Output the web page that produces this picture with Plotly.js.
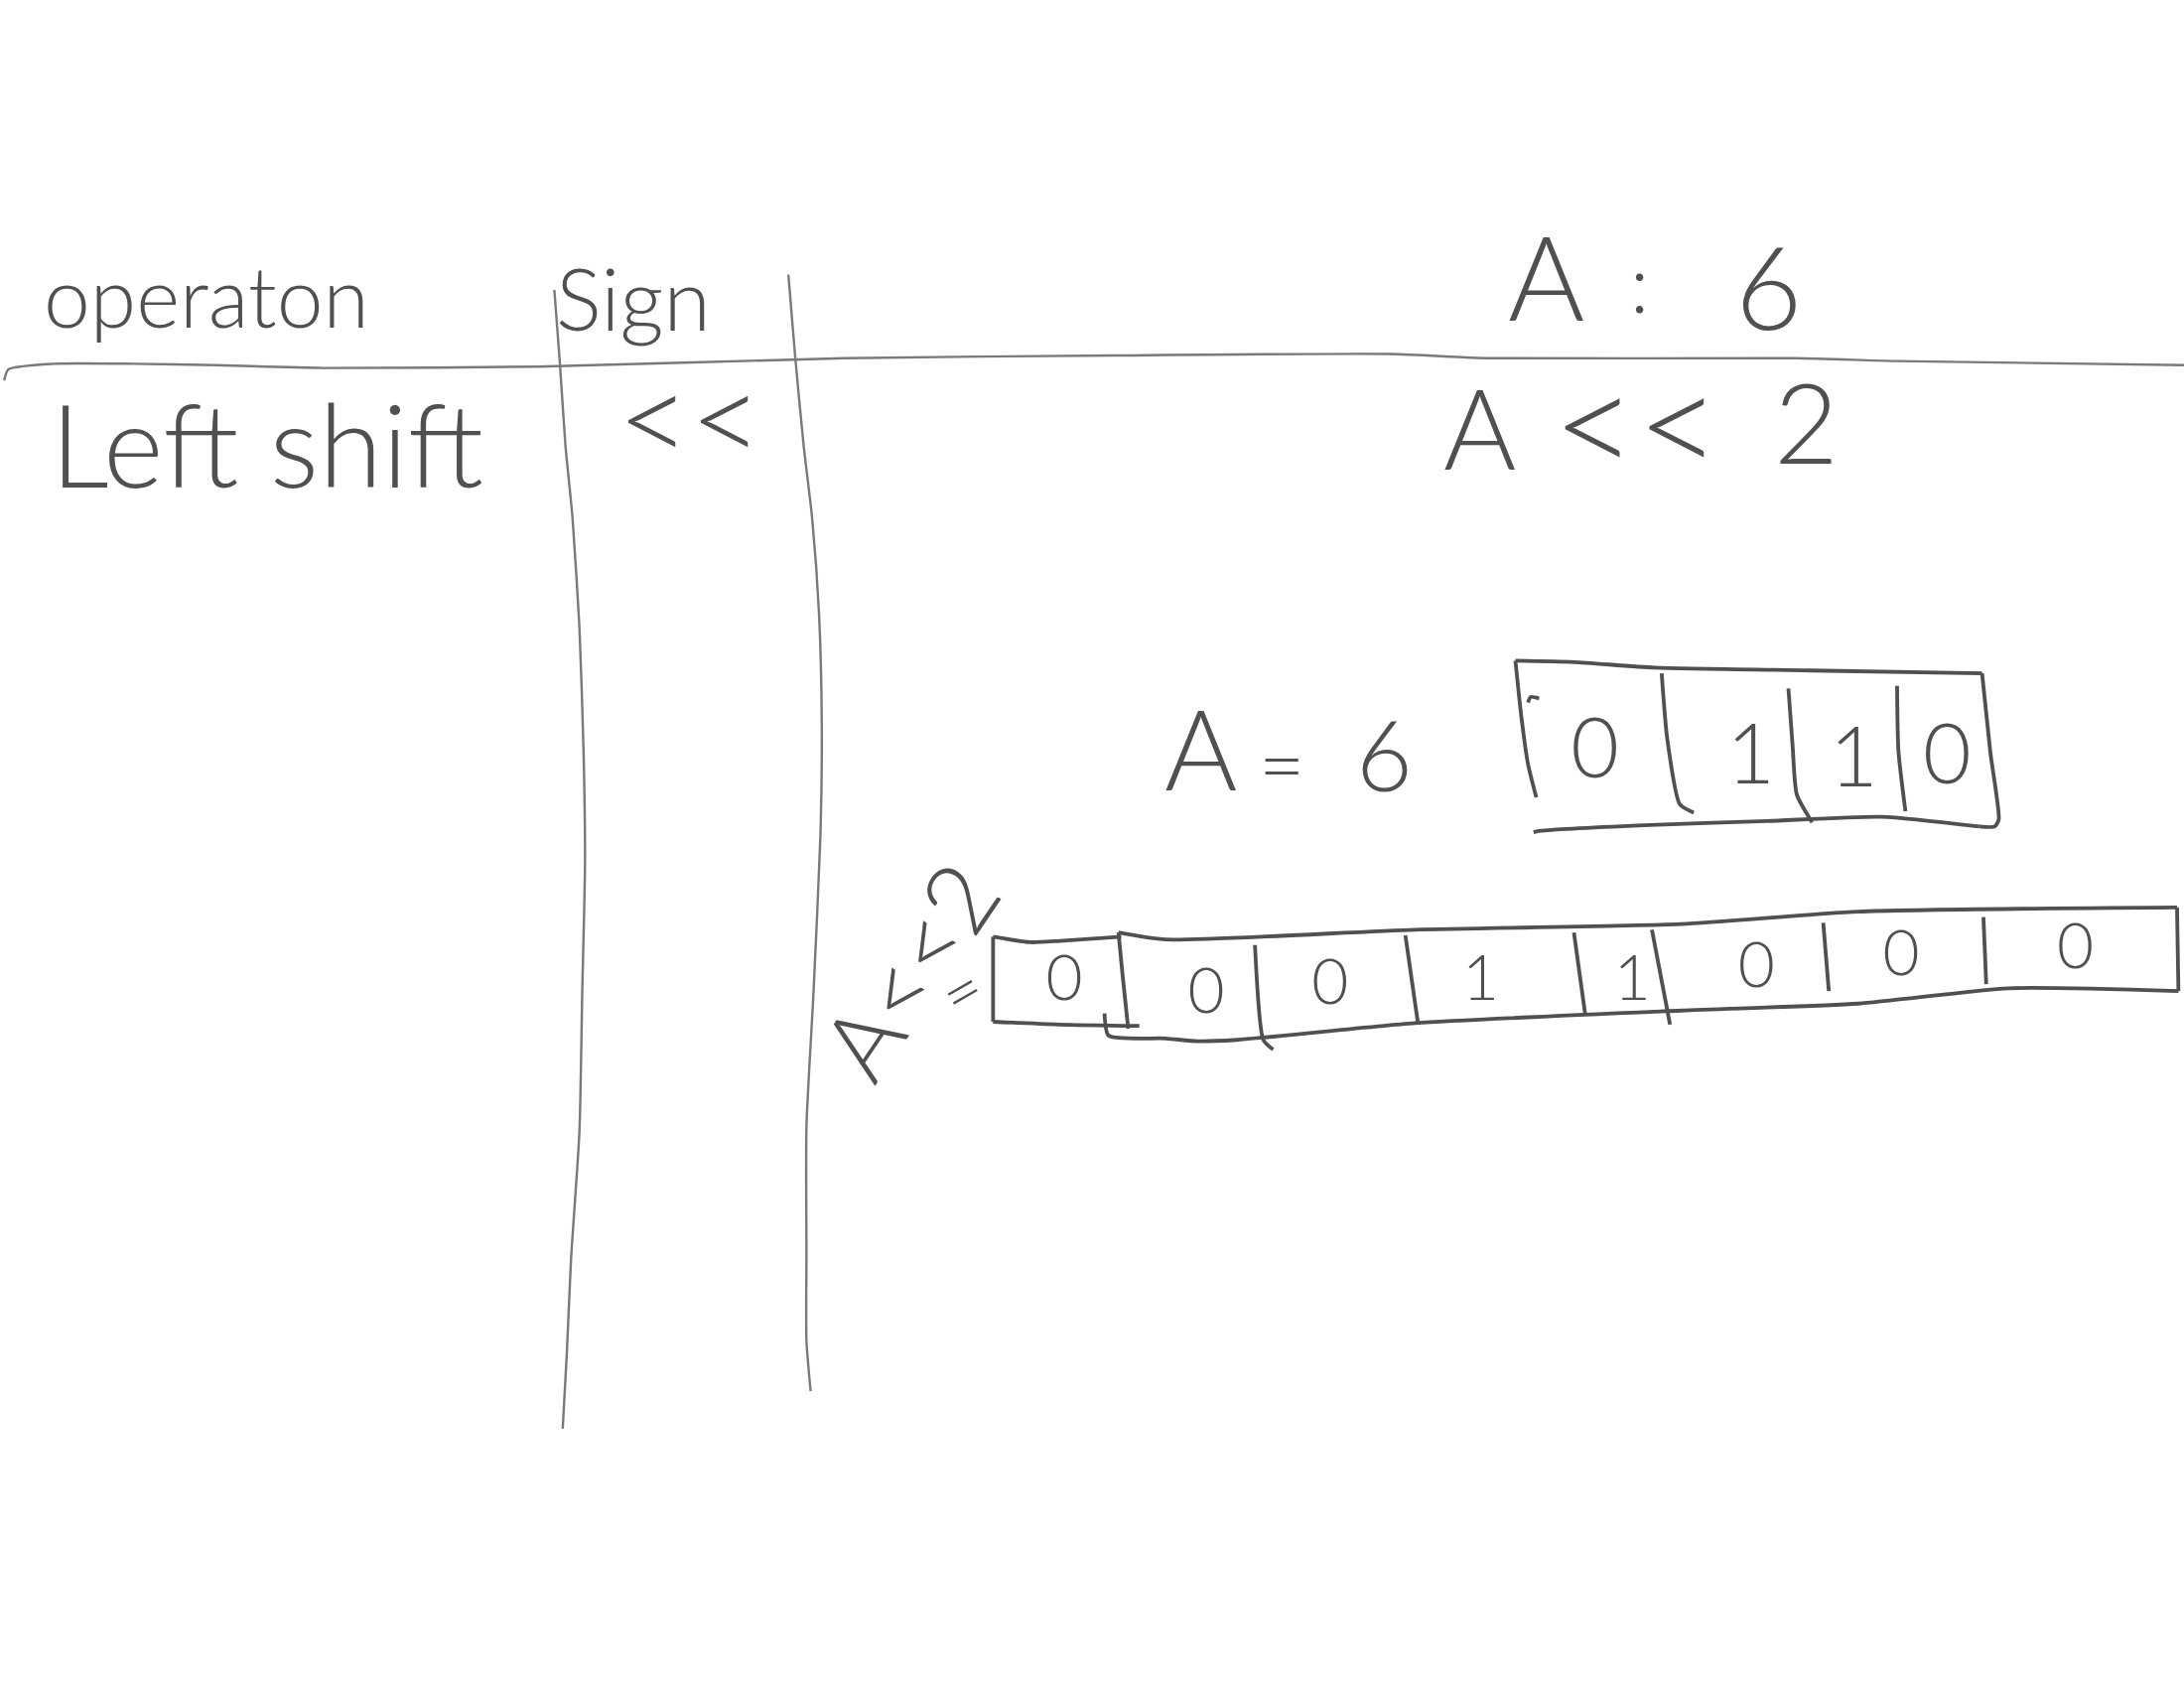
<!DOCTYPE html>
<html>
<head>
<meta charset="utf-8">
<script src="https://cdn.plot.ly/plotly-3.0.1.min.js"></script>
<style>html,body{margin:0;padding:0;background:#fff;}#plot{width:2200px;height:1700px;}</style>
</head>
<body>
<div id="plot"></div>
<script>
// ---- content ----
const headerLabels = ["operaton", "Sign"];
const rowLabels = ["Left shift", "<<"];
const exprTop = ["A", ":", "6"];
const exprShift = ["A", "<<", "2"];
const exprMid = ["A", "=", "6"];
const bitsA = [0, 1, 1, 0];
const bitsShifted = [0, 0, 0, 1, 1, 0, 0, 0];
const shiftedLabel = ["A<<2", "="];

// ---- geometry / style (sketch coordinates, 1568 x 1211 canvas) ----
const INK = "#505050";
const RULE = "#7a7a7a";
const FONT = "Lato";

const geo = {
  header: [[148, 212, 84], [455, 213, 86]],
  row: [[192, 318, 116], [495, 298, 126]],
  top: [[1110, 198, 118], [1177, 202, 80], [1270, 205, 116]],
  shift: [[1062, 306, 112], [1175, 302, 146], [1297, 302, 112]],
  mid: [[862, 536, 112], [920, 548, 80], [994, 541, 98]],
  cellsA: {x: [1145, 1257, 1331, 1398], y: [543, 547, 549, 547], size: 84},
  cellsB: {x: [764, 866, 955, 1063, 1172, 1261, 1365, 1490], y: [706, 715, 709, 706, 706, 697, 688, 683], size: 64},
  shiftedLabel: [[652, 695, 98, -56], [690, 710, 66, -30]]
};

// rule lines of the table
const rules = [
  [[3,273],[6,265],[39,261],[96,261],[155,262],[232,264],[386,263],[606,257],[800,255],[998,254],[1070,257],[1289,257],[1361,259],[1568,262]],
  [[398,208],[402,261],[406,320],[411,371],[416,450],[419,540],[420,620],[418,713],[416,812],[410,903],[407,970],[404,1025]],
  [[566,197],[571,257],[577,320],[583,371],[588,440],[590,520],[589,600],[584,713],[579,808],[579,900],[579,962],[582,998]]
];

// ink strokes (boxes and dividers)
const strokes = [
  // box A
  [[1088,474],[1130,475],[1188,479],[1300,481],[1423,483]],
  [[1423,483],[1429,540],[1435,588],[1432,593],[1421,593]],
  [[1421,593],[1351,586],[1269,589],[1180,592],[1106,596],[1101,597]],
  [[1088,474],[1092,512],[1097,548],[1103,572]],
  [[1097,504],[1099,500],[1105,501]],
  [[1193,483],[1197,530],[1206,577],[1216,583]],
  [[1284,494],[1287,535],[1290,570],[1301,590]],
  [[1362,492],[1363,539],[1368,582]],
  // box A<<2 : first small cell
  [[713,672],[713,733]],
  [[713,672],[740,676],[761,675],[805,672]],
  [[713,733],[760,735],[818,736]],
  [[803,669],[806,700],[810,738]],
  // big box
  [[803,669],[837,674],[1016,667],[1207,663],[1334,654],[1563,651]],
  [[1563,651],[1564,711]],
  [[1564,711],[1442,709],[1334,720],[1207,725],[1016,734],[888,746],[860,747],[837,745],[796,743],[793,727]],
  // dividers
  [[901,678],[907,746],[914,753]],
  [[1009,671],[1018,734]],
  [[1130,669],[1138,727]],
  [[1186,667],[1199,735]],
  [[1309,662],[1313,711]],
  [[1424,658],[1426,706]]
];

const traces = [];
rules.forEach(function (s) {
  traces.push({type: "scatter", mode: "lines", x: s.map(p => p[0]), y: s.map(p => p[1]),
    line: {color: RULE, width: 2.4, shape: "spline", smoothing: 0.6}, hoverinfo: "skip", showlegend: false});
});
strokes.forEach(function (s) {
  traces.push({type: "scatter", mode: "lines", x: s.map(p => p[0]), y: s.map(p => p[1]),
    line: {color: INK, width: 3.8, shape: "spline", smoothing: 0.6}, hoverinfo: "skip", showlegend: false});
});
// bits drawn as text marks
traces.push({type: "scatter", mode: "text", x: geo.cellsA.x, y: geo.cellsA.y,
  text: bitsA.map(String), textposition: "middle center",
  textfont: {family: FONT, size: geo.cellsA.size, color: INK, weight: 300}, hoverinfo: "skip", showlegend: false});
traces.push({type: "scatter", mode: "text", x: geo.cellsB.x, y: geo.cellsB.y,
  text: bitsShifted.map(String), textposition: "middle center",
  textfont: {family: FONT, size: geo.cellsB.size, color: INK, weight: 300}, hoverinfo: "skip", showlegend: false});

function ann(text, g, angle) {
  return {text: text, x: g[0], y: g[1], xref: "x", yref: "y", showarrow: false,
    xanchor: "center", yanchor: "middle", textangle: angle || 0,
    font: {family: FONT, size: g[2], color: INK, weight: 300}};
}
const annotations = [];
headerLabels.forEach((t, i) => annotations.push(ann(t, geo.header[i])));
rowLabels.forEach((t, i) => annotations.push(ann(t, geo.row[i])));
exprTop.forEach((t, i) => annotations.push(ann(t, geo.top[i])));
exprShift.forEach((t, i) => annotations.push(ann(t, geo.shift[i])));
exprMid.forEach((t, i) => annotations.push(ann(t, geo.mid[i])));
shiftedLabel.forEach((t, i) => annotations.push(ann(t, geo.shiftedLabel[i], geo.shiftedLabel[i][3])));

const layout = {
  width: 2200, height: 1700,
  margin: {l: 0, r: 0, t: 0, b: 0, pad: 0},
  paper_bgcolor: "#ffffff", plot_bgcolor: "#ffffff",
  xaxis: {range: [0, 1568], visible: false, fixedrange: true},
  yaxis: {range: [1211, 0], visible: false, fixedrange: true},
  annotations: annotations,
  showlegend: false
};
Plotly.newPlot("plot", traces, layout, {displayModeBar: false, staticPlot: true});
</script>
</body>
</html>
